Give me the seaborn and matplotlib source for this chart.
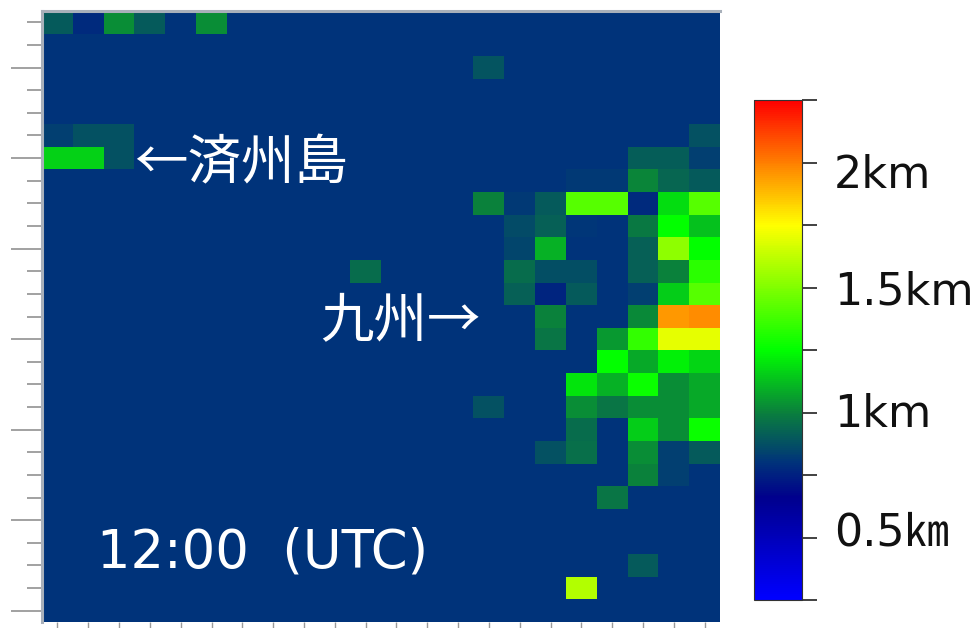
import numpy as np
import pandas as pd
import seaborn as sns
import matplotlib
matplotlib.use("Agg")
import matplotlib.pyplot as plt
from matplotlib.colors import LinearSegmentedColormap

# --- data (km) ---
n_rows = 27
n_cols = 22
background = 0.80
cell_rows = [0, 0, 0, 0, 0,
             2,
             5, 5, 5, 5,
             6, 6, 6, 6, 6, 6,
             7, 7, 7, 7, 7,
             8, 8, 8, 8, 8, 8, 8, 8,
             9, 9, 9, 9, 9, 9,
             10, 10, 10, 10, 10,
             11, 11, 11, 11, 11, 11, 11, 11,
             12, 12, 12, 12, 12, 12, 12,
             13, 13, 13, 13,
             14, 14, 14, 14, 14,
             15, 15, 15, 15,
             16, 16, 16, 16, 16,
             17, 17, 17, 17, 17, 17,
             18, 18, 18, 18, 18,
             19, 19, 19, 19, 19,
             20, 20,
             21,
             24,
             25]
cell_cols = [0, 1, 2, 3, 5,
             14,
             0, 1, 2, 21,
             0, 1, 2, 19, 20, 21,
             17, 19, 20, 21, 18,
             14, 15, 16, 17, 18, 19, 20, 21,
             15, 16, 17, 19, 20, 21,
             15, 16, 19, 20, 21,
             10, 15, 16, 17, 19, 20, 21, 18,
             15, 16, 17, 19, 20, 21, 18,
             16, 19, 20, 21,
             16, 18, 19, 20, 21,
             18, 19, 20, 21,
             17, 18, 19, 20, 21,
             14, 17, 18, 19, 20, 21,
             17, 18, 19, 20, 21,
             16, 17, 19, 20, 21,
             19, 20,
             18,
             19,
             17]
cell_vals = [0.90, 0.78, 1.03, 0.90, 1.03,
             0.89,
             0.83, 0.88, 0.88, 0.88,
             1.16, 1.16, 0.88, 0.91, 0.91, 0.83,
             0.82, 1.01, 0.93, 0.90, 0.82,
             1.00, 0.82, 0.90, 1.42, 1.42, 0.78, 1.18, 1.42,
             0.86, 0.92, 0.81, 0.98, 1.25, 1.13,
             0.85, 1.10, 0.92, 1.53, 1.25,
             0.95, 0.95, 0.87, 0.87, 0.92, 1.00, 1.33, 0.80,
             0.92, 0.76, 0.90, 0.83, 1.15, 1.42, 0.80,
             1.00, 1.02, 1.95, 1.97,
             0.97, 1.05, 1.35, 1.70, 1.70,
             1.25, 1.08, 1.22, 1.17,
             1.20, 1.10, 1.27, 1.03, 1.08,
             0.88, 1.03, 0.97, 1.03, 1.03, 1.08,
             0.95, 0.80, 1.15, 1.03, 1.27,
             0.88, 0.96, 1.03, 0.83, 0.90,
             1.00, 0.83,
             0.97,
             0.90,
             1.60]
scale_ticks = [0.25, 0.5, 0.75, 1.0, 1.25, 1.5, 1.75, 2.0, 2.25]
scale_min = 0.25
scale_max = 2.25
long_tick_rows = [2, 6, 10, 14, 18, 22, 26]

W, H = 980, 628
fig = plt.figure(figsize=(W / 100, H / 100), dpi=100, facecolor="white")


def rect(x0, y0, x1, y1):
    return [x0 / W, 1 - y1 / H, (x1 - x0) / W, (y1 - y0) / H]


ax = fig.add_axes(rect(42, 11, 720, 622))
cax = fig.add_axes(rect(754, 100, 802, 600))

grid = np.full((n_rows, n_cols), background)
for r, c, v in zip(cell_rows, cell_cols, cell_vals):
    grid[r, c] = v
frame = pd.DataFrame(grid)


def norm(v):
    return (v - scale_min) / (scale_max - scale_min)


cmap = LinearSegmentedColormap.from_list(
    "height",
    [(norm(0.25), "#0000ff"), (norm(0.66), "#00008c"), (norm(0.80), "#00337a"),
     (norm(1.00), "#0a803c"), (norm(1.25), "#00ff00"), (norm(1.75), "#ffff00"),
     (norm(2.25), "#ff0000")],
)

sns.heatmap(frame, ax=ax, cmap=cmap, vmin=scale_min, vmax=scale_max, cbar=True, cbar_ax=cax,
            xticklabels=False, yticklabels=False, linewidths=0)

# main-panel ticks and frame
short_rows = [r for r in range(n_rows) if r not in long_tick_rows]
ax.set_yticks([r + 0.5 for r in long_tick_rows])
ax.set_yticks([r + 0.5 for r in short_rows], minor=True)
ax.set_xticks([c + 0.5 for c in range(n_cols)])
ax.set_yticklabels([])
ax.set_xticklabels([])
ax.tick_params(axis="y", which="major", length=22, width=1.3, color="#9a9a9a", left=True)
ax.tick_params(axis="y", which="minor", length=11, width=1.3, color="#9a9a9a", left=True)
ax.tick_params(axis="x", which="major", length=5, width=1.0, color="#9a9a9a", bottom=True)
for name, spine in ax.spines.items():
    spine.set_visible(name in ("left", "top"))
    spine.set_color("#a8b0ba")
    spine.set_linewidth(2.2)

# colour bar
cbar = ax.collections[0].colorbar
cbar.set_ticks(scale_ticks)
cbar.set_ticklabels([])
cbar.ax.tick_params(length=11, width=1.3, color="#333333", right=True)
cbar.outline.set_visible(True)
cbar.outline.set_edgecolor("#333333")
cbar.outline.set_linewidth(0.8)

cjk = ["Noto Sans CJK JP", "DejaVu Sans"]
latin_then_cjk = ["DejaVu Sans", "Noto Sans CJK JP"]


def label(x, y, s, size, color, family="DejaVu Sans"):
    fig.text(x / W, 1 - y / H, s, fontsize=size, color=color, family=family,
             ha="left", va="center_baseline")


label(834, 171, "2km", 32, "#111111")
label(834, 287, "1.5km", 32, "#111111")
label(834, 410, "1km", 32, "#111111")
label(834, 529, "0.5㎞", 32, "#111111", latin_then_cjk)

label(134, 158, "←済州島", 38.5, "white", cjk)
label(320, 315, "九州→", 38.5, "white", cjk)
label(97, 547, "12:00  (UTC)", 38, "white")

fig.savefig("out.png", dpi=100, facecolor="white")
